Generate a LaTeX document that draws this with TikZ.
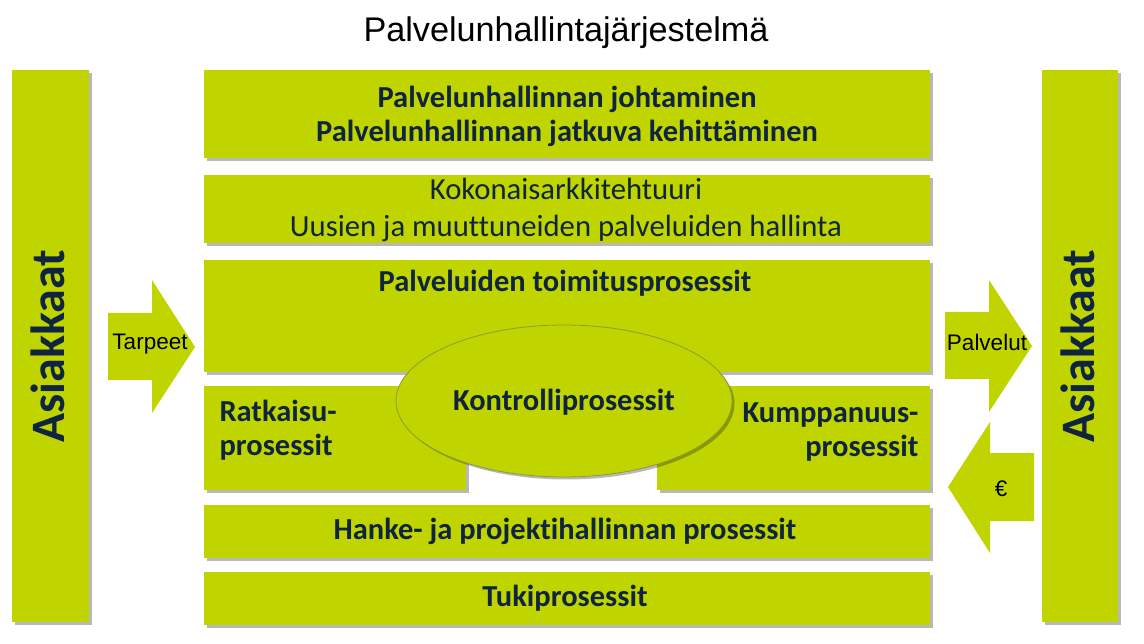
\documentclass[tikz,border=0pt]{standalone}
\usepackage{fontspec}
\setmainfont{Carlito}[Ligatures=NoCommon]
\newfontfamily\arialf{Liberation Sans}
\usetikzlibrary{shapes.geometric,shadows}
\definecolor{lime}{HTML}{C0D500}
\definecolor{navy}{HTML}{0F243E}
\definecolor{ellborder}{HTML}{8C9A3A}
\tikzset{
  shad/.style={drop shadow={shadow xshift=2.5pt,shadow yshift=-2.5pt,fill=black,opacity=0.28}},
  box/.style={fill=lime,shad,inner sep=0pt,anchor=north west},
  boxtext/.style={text=navy,font=\fontsize{30.5}{34}\selectfont\bfseries,align=center},
  thintext/.style={text=navy,font=\fontsize{30.7}{37}\selectfont,align=center},
  arrowfill/.style={fill=lime},
  arrtext/.style={font=\arialf\fontsize{22.5}{24}\selectfont,text=black,inner sep=0pt},
  sidetext/.style={text=navy,font=\fontsize{48}{50}\selectfont\bfseries,rotate=90}
}
\begin{document}
\begin{tikzpicture}[x=1pt,y=-1pt]
\useasboundingbox (0,0) rectangle (1144,644);
\fill[white] (0,0) rectangle (1144,644);
% title
\node[font=\arialf\fontsize{34.2}{36}\selectfont,text=black] (title) at (566,33) {Palvelunhallintajärjestelmä};
% side bars
\node[box,minimum width=77pt,minimum height=552pt] (leftbar) at (12,70) {};
\node[sidetext] (lefttext) at (48,346) {Asiakkaat};
\node[box,minimum width=76pt,minimum height=552pt] (rightbar) at (1042,70) {};
\node[sidetext] (righttext) at (1078,346) {Asiakkaat};
% boxes
\node[box,minimum width=726pt,minimum height=88pt] (b1) at (204,70) {};
\node[boxtext] (b1t) at (567,116) {Palvelunhallinnan johtaminen\\Palvelunhallinnan jatkuva kehittäminen};
\node[box,minimum width=726pt,minimum height=68pt] (b2) at (204,175) {};
\node[thintext] (b2t) at (566,210) {Kokonaisarkkitehtuuri\\Uusien ja muuttuneiden palveluiden hallinta};
\node[box,minimum width=726pt,minimum height=112pt] (b3) at (204,260) {};
\node[boxtext] (b3t) at (565,283) {Palveluiden toimitusprosessit};
\node[box,minimum width=262pt,minimum height=104pt] (b4) at (204,386) {};
\node[boxtext,align=left,anchor=west] (b4t) at (216,430) {Ratkaisu-\\prosessit};
\node[box,minimum width=273pt,minimum height=104pt] (b5) at (657,386) {};
\node[boxtext,align=right,anchor=east] (b5t) at (922,432) {Kumppanuus-\\prosessit};
\node[ellipse,fill=lime,draw=ellborder,line width=0.8pt,shad,minimum width=336pt,minimum height=152pt,inner sep=0pt] (ell) at (564,401) {};
\node[boxtext] (ellt) at (564,402) {Kontrolliprosessit};
\node[box,minimum width=726pt,minimum height=53pt] (b6) at (204,505) {};
\node[boxtext] (b6t) at (565,531) {Hanke- ja projektihallinnan prosessit};
\node[box,minimum width=726pt,minimum height=53pt] (b7) at (204,572) {};
\node[boxtext] (b7t) at (565,598) {Tukiprosessit};
% arrows
\fill[arrowfill] (108,313) -- (152,313) -- (152,280) -- (195,347) -- (152,413) -- (152,380) -- (108,380) -- cycle;
\node[arrtext] (tarpeet) at (150,344) {Tarpeet};
\fill[arrowfill] (945,312) -- (989,312) -- (989,280) -- (1032,346) -- (989,412) -- (989,379) -- (945,379) -- cycle;
\node[arrtext] (palvelut) at (987,342) {Palvelut};
\fill[arrowfill] (1034,453) -- (990,453) -- (990,422) -- (948,487) -- (990,553) -- (990,521) -- (1034,521) -- cycle;
\node[arrtext] (euro) at (1001,489) {€};
\end{tikzpicture}
\end{document}
